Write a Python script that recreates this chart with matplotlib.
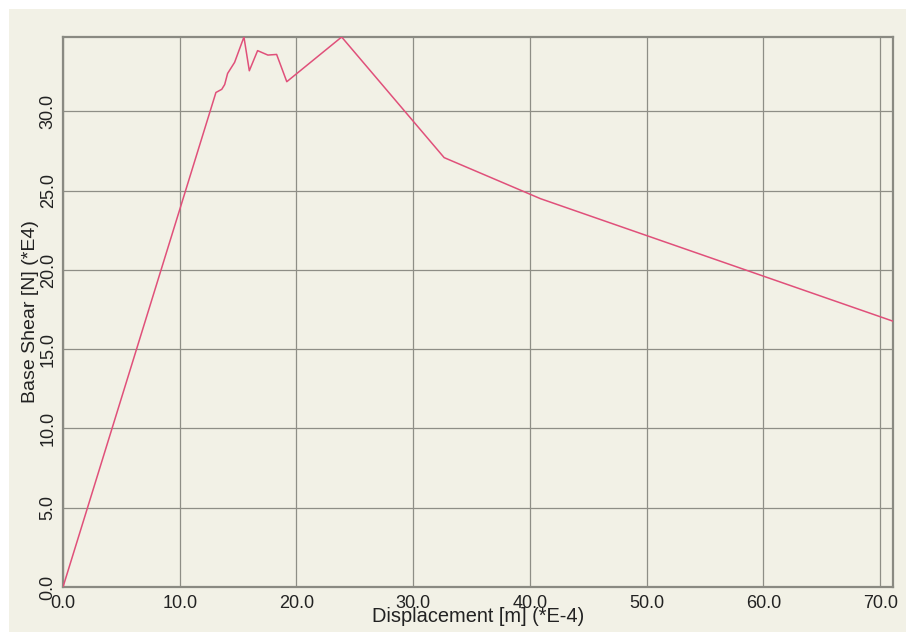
import matplotlib.pyplot as plt
from matplotlib.patches import Rectangle

# pushover curve
displacement = [0.0, 13.1, 13.6, 13.85, 14.1, 14.7, 15.5, 15.96, 16.67,
                17.55, 18.3, 19.17, 23.87, 32.65, 40.9, 71.1]
base_shear = [0.0, 31.2, 31.4, 31.7, 32.4, 33.1, 34.7, 32.57, 33.84,
              33.56, 33.6, 31.88, 34.7, 27.09, 24.5, 16.77]

x_ticks = [0, 10, 20, 30, 40, 50, 60, 70]
y_ticks = [0, 5, 10, 15, 20, 25, 30]

cream = '#F2F1E6'
grid_col = '#8E8E86'

plt.rcParams['font.family'] = ['Liberation Sans', 'DejaVu Sans']

fig = plt.figure(figsize=(9.06, 6.32), dpi=100, facecolor='white')
fig.patches.append(Rectangle((9 / 906, 0), 1, 1 - 9 / 632, transform=fig.transFigure,
                             facecolor=cream, edgecolor='none', zorder=-10))

ax = fig.add_axes([63 / 906, 45 / 632, 830 / 906, 550 / 632])
ax.set_facecolor(cream)

ax.plot(displacement, base_shear, color='#E0507A', lw=1.1, zorder=3)

ax.set_xlim(0, 71.1)
ax.set_ylim(0, 34.7)
ax.set_xticks(x_ticks)
ax.set_yticks(y_ticks)
ax.set_xticklabels([f'{v:.1f}' for v in x_ticks])
ax.set_yticklabels([f'{v:.1f}' for v in y_ticks], rotation=90, va='center')
ax.tick_params(length=0, labelsize=13, colors='#222222')
ax.tick_params(axis='x', pad=6)
ax.tick_params(axis='y', pad=4.5)

ax.grid(True, color=grid_col, lw=0.9)
for s in ax.spines.values():
    s.set_color('#8A8A82')
    s.set_linewidth(1.6)

ax.set_xlabel('Displacement [m] (*E-4)', fontsize=14.4, color='#222222', va='baseline')
ax.set_ylabel('Base Shear [N] (*E4)', fontsize=14, color='#222222', va='baseline')
ax.xaxis.set_label_coords(0.5, -0.0636)
ax.yaxis.set_label_coords(-0.0337, 0.5)

fig.savefig('out.png', dpi=100, facecolor=fig.get_facecolor())
